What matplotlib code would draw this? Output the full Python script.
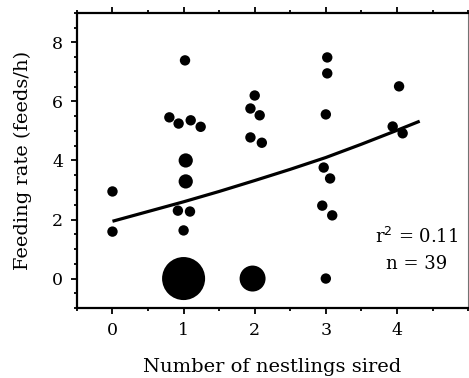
import numpy as np
import matplotlib
matplotlib.use("Agg")
import matplotlib.pyplot as plt
from matplotlib.ticker import MultipleLocator

plt.rcParams['font.family'] = ['DejaVu Serif']

# points (x = nestlings sired, y = feeds/h, count = overlapping birds)
nestlings = [0, 0,
             1.02, 0.80, 0.93, 1.10, 1.24, 1.03, 1.03, 0.92, 1.09, 1.00, 1.00,
             2.00, 1.94, 2.07, 1.94, 2.10, 1.97,
             3.02, 3.02, 3.00, 2.97, 3.06, 2.95, 3.09, 3.00,
             4.03, 3.94, 4.08]
feeding = [2.95, 1.59,
           7.39, 5.46, 5.25, 5.36, 5.14, 4.00, 3.29, 2.30, 2.27, 1.63, 0.0,
           6.20, 5.76, 5.53, 4.78, 4.60, 0.0,
           7.49, 6.95, 5.56, 3.76, 3.39, 2.47, 2.14, 0.0,
           6.51, 5.15, 4.92]
counts = [1, 1,
          1, 1, 1, 1, 1, 2, 2, 1, 1, 1, 6,
          1, 1, 1, 1, 1, 3,
          1, 1, 1, 1, 1, 1, 1, 1,
          1, 1, 1]

# fitted curve
fit_x = [0.0, 0.5, 1.0, 1.5, 2.0, 2.5, 3.0, 3.5, 4.0, 4.32]
fit_y = [1.94, 2.27, 2.60, 2.95, 3.32, 3.70, 4.10, 4.55, 5.02, 5.33]

marker_area = {1: 56, 2: 105, 3: 350, 6: 960}

fig = plt.figure(figsize=(4.69, 3.78), dpi=100)
ax = fig.add_axes([0.164, 0.185, 0.834, 0.781])

ax.scatter(nestlings, feeding, s=[marker_area[c] for c in counts],
           color='black', edgecolors='none', zorder=3)
ax.plot(fit_x, fit_y, color='black', lw=2.3, solid_capstyle='butt', zorder=2)

ax.set_xlim(-0.5, 5.0)
ax.set_ylim(-1, 9)
ax.set_xticks([0, 1, 2, 3, 4])
ax.set_yticks([0, 2, 4, 6, 8])
ax.xaxis.set_minor_locator(MultipleLocator(0.5))
ax.yaxis.set_minor_locator(MultipleLocator(0.5))
ax.tick_params(which='both', direction='out', top=True, right=False,
               width=1.3, labelsize=12.5, pad=6)
ax.tick_params(which='major', length=4)
ax.tick_params(which='minor', length=2.5)

for side in ['left', 'bottom', 'top']:
    ax.spines[side].set_linewidth(1.6)
ax.spines['right'].set_linewidth(0.8)
ax.spines['right'].set_color('0.45')

ax.set_xlabel('Number of nestlings sired', fontsize=14, labelpad=14)
ax.set_ylabel('Feeding rate (feeds/h)', fontsize=14, labelpad=14)

ax.text(4.28, 1.42, 'r$^2$ = 0.11', fontsize=13, ha='center', va='center')
ax.text(4.28, 0.5, 'n = 39', fontsize=13, ha='center', va='center')

fig.savefig('out.png', dpi=100)
